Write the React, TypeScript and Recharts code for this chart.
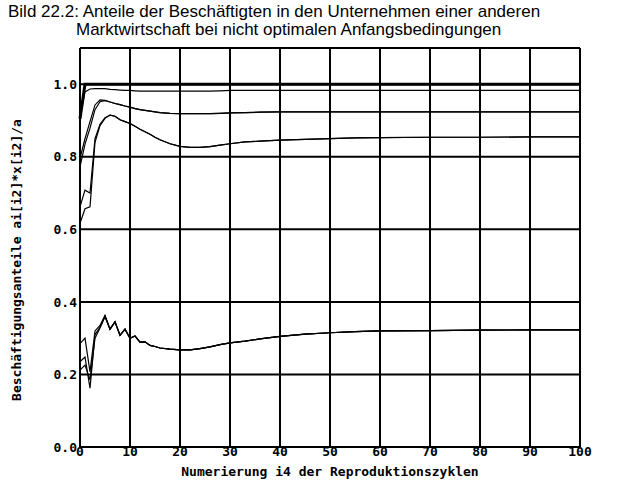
import React from 'react';
import { LineChart, Line, XAxis, YAxis, CartesianGrid, ReferenceLine, Label } from 'recharts';

const xs = [0,1,2,3,4,5,6,7,8,9,10,11,12,13,14,15,16,18,20,22,24,26,28,30,33,36,40,45,50,55,60,70,80,90,100];

const sTotal = [0.905,1,1,1,1,1,1,1,1,1,1,1,1,1,1,1,1,1,1,1,1,1,1,1,1,1,1,1,1,1,1,1,1,1,1];
const sB = [0.905,0.979,0.987,0.988,0.988,0.988,0.986,0.985,0.984,0.983,0.983,0.982,0.981,0.981,0.981,0.981,0.981,0.981,0.981,0.981,0.981,0.981,0.982,0.983,0.983,0.983,0.983,0.983,0.983,0.983,0.983,0.983,0.983,0.983,0.983];
const sC1 = [0.796,0.85,0.897,0.943,0.957,0.956,0.951,0.947,0.944,0.940,0.937,0.933,0.930,0.928,0.926,0.924,0.922,0.920,0.919,0.919,0.919,0.919,0.920,0.921,0.922,0.923,0.924,0.924,0.924,0.924,0.924,0.924,0.924,0.924,0.924];
const sC2 = [0.772,0.835,0.879,0.93,0.952,0.955,0.951,0.947,0.944,0.940,0.937,0.933,0.930,0.928,0.926,0.924,0.922,0.920,0.919,0.919,0.919,0.919,0.920,0.921,0.922,0.923,0.924,0.924,0.924,0.924,0.924,0.924,0.924,0.924,0.924];
const sF1 = [0.662,0.708,0.70,0.85,0.89,0.908,0.915,0.912,0.902,0.897,0.892,0.884,0.876,0.869,0.862,0.854,0.847,0.836,0.829,0.826,0.826,0.828,0.832,0.836,0.841,0.843,0.846,0.848,0.850,0.852,0.853,0.854,0.854,0.855,0.855];
const sF2 = [0.617,0.657,0.662,0.84,0.886,0.906,0.915,0.912,0.902,0.897,0.892,0.884,0.876,0.869,0.862,0.854,0.847,0.836,0.829,0.826,0.826,0.828,0.832,0.836,0.841,0.843,0.846,0.848,0.850,0.852,0.853,0.854,0.854,0.855,0.855];
const sG = [0.285,0.30,0.207,0.32,0.335,0.363,0.325,0.345,0.308,0.325,0.30,0.306,0.289,0.29,0.28,0.277,0.273,0.27,0.268,0.268,0.271,0.276,0.282,0.287,0.292,0.298,0.305,0.311,0.315,0.318,0.32,0.321,0.322,0.323,0.323];
const sH = [0.235,0.248,0.162,0.31,0.33,0.36,0.325,0.345,0.308,0.325,0.30,0.306,0.289,0.29,0.28,0.277,0.273,0.27,0.268,0.268,0.271,0.276,0.282,0.287,0.292,0.298,0.305,0.311,0.315,0.318,0.32,0.321,0.322,0.323,0.323];
const sI = [0.212,0.226,0.185,0.30,0.328,0.36,0.325,0.345,0.308,0.325,0.30,0.306,0.289,0.29,0.28,0.277,0.273,0.27,0.268,0.268,0.271,0.276,0.282,0.287,0.292,0.298,0.305,0.311,0.315,0.318,0.32,0.321,0.322,0.323,0.323];

const xTicks = [0,10,20,30,40,50,60,70,80,90,100];
const yTicks = [0,0.2,0.4,0.6,0.8,1.0];

const titleLine1 = 'Bild 22.2: Anteile der Beschäftigten in den Unternehmen einer anderen';
const titleLine2 = 'Marktwirtschaft bei nicht optimalen Anfangsbedingungen';
const xLabel = 'Numerierung i4 der Reproduktionszyklen';
const yLabel = 'Beschäftigungsanteile ai[i2]*x[i2]/a';

const seriesKeys = ['total','b','c1','c2','f1','f2','g','h','i'];
const seriesVals = [sTotal,sB,sC1,sC2,sF1,sF2,sG,sH,sI];

const data = xs.map((x, k) => {
  const row: any = { x };
  seriesKeys.forEach((key, j) => { row[key] = seriesVals[j][k]; });
  return row;
});

const mono = '"DejaVu Sans Mono", monospace';
const titleStyle: React.CSSProperties = {
  position: 'absolute', fontFamily: '"Liberation Sans", Arial, sans-serif', fontSize: 17,
  color: '#000', whiteSpace: 'nowrap', lineHeight: '18px',
};

export default function App() {
  return (
    <div style={{ position: 'absolute', left: 0, top: 0, width: 640, height: 480, background: '#fff' }}>
      <div style={{ ...titleStyle, left: 8, top: 3 }}>{titleLine1}</div>
      <div style={{ ...titleStyle, left: 76, top: 21 }}>{titleLine2}</div>
      <LineChart width={640} height={480} data={data} margin={{ top: 48, right: 60, bottom: 0, left: 30 }}>
        <CartesianGrid stroke="#000" strokeWidth={2} strokeOpacity={1} />
        <ReferenceLine y={1.1} stroke="#000" strokeWidth={2} />
        <XAxis dataKey="x" type="number" domain={[0, 100]} ticks={xTicks} interval={0}
          axisLine={false} tickLine={false} tickSize={0} tickMargin={0} height={33}
          tick={{ fill: '#000', fontFamily: mono, fontWeight: 'bold', fontSize: 13 }}>
          <Label value={xLabel} position="insideBottom" offset={4}
            style={{ fill: '#000', fontFamily: mono, fontWeight: 'bold', fontSize: 13 }} />
        </XAxis>
        <YAxis type="number" domain={[0, 1.1]} ticks={yTicks} interval={0}
          axisLine={false} tickLine={false} tickSize={0} tickMargin={3} width={50}
          tickFormatter={(v: number) => v.toFixed(1)}
          tick={{ fill: '#000', fontFamily: mono, fontWeight: 'bold', fontSize: 13 }}>
          <Label content={() => (
            <text x={21} y={260} transform="rotate(-90 21 260)" textAnchor="middle"
              fill="#000" fontFamily={mono} fontWeight="bold" fontSize={13}>{yLabel}</text>
          )} />
        </YAxis>
        <Line dataKey="total" stroke="#000" strokeWidth={3} dot={false} isAnimationActive={false} />
        {seriesKeys.slice(1).map((k) => (
          <Line key={k} dataKey={k} stroke="#000" strokeWidth={1.2} dot={false} isAnimationActive={false} />
        ))}
      </LineChart>
    </div>
  );
}
